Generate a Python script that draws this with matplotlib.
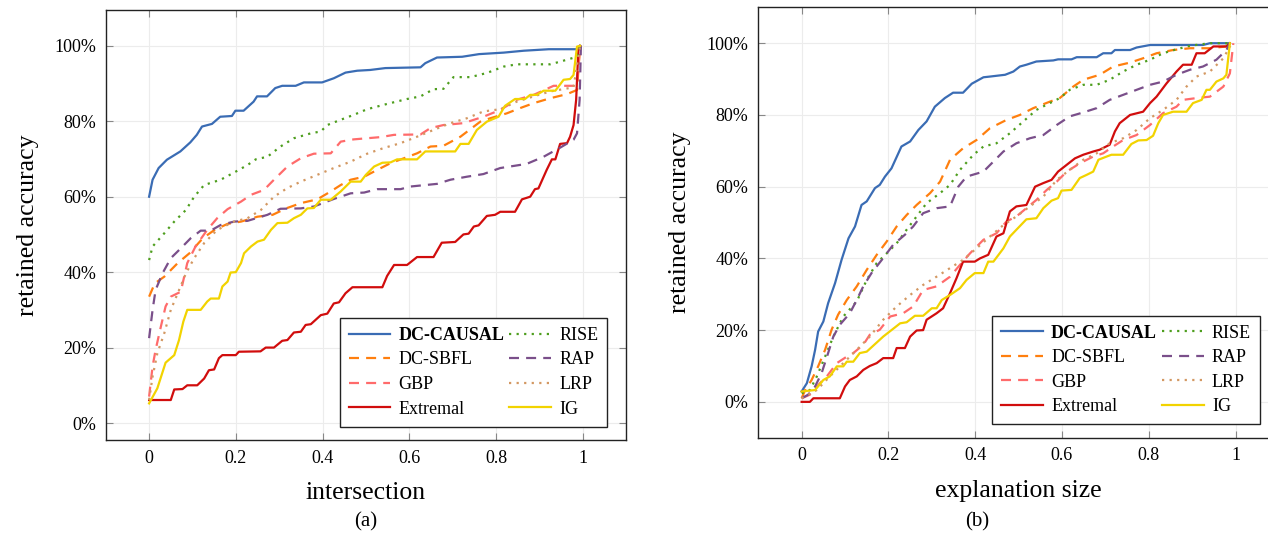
import matplotlib
matplotlib.use('Agg')
import matplotlib.pyplot as plt
from matplotlib.ticker import PercentFormatter, FuncFormatter

plt.rcParams['font.family'] = ['Liberation Serif', 'DejaVu Serif']
plt.rcParams['mathtext.fontset'] = 'stix'

LABELS = ['DC-CAUSAL', 'DC-SBFL', 'GBP', 'Extremal', 'RISE', 'RAP', 'LRP', 'IG']
XTICKS = [0, 0.2, 0.4, 0.6, 0.8, 1]
YTICKS = [0, 20, 40, 60, 80, 100]

# (a) retained accuracy (%) vs intersection
a_causal = [(0,60),(0.008,64.5),(0.022,67.6),(0.041,69.8),(0.072,72),(0.095,74.4),(0.11,76.4),(0.122,78.6),(0.145,79.3),(0.164,81.2),(0.191,81.4),(0.199,82.8),(0.218,82.8),(0.241,85.2),(0.249,86.6),(0.272,86.6),(0.291,88.8),(0.307,89.4),(0.338,89.4),(0.357,90.3),(0.399,90.3),(0.426,91.4),(0.453,92.9),(0.48,93.4),(0.51,93.6),(0.545,94.1),(0.626,94.3),(0.637,95.4),(0.664,96.9),(0.722,97.1),(0.761,97.8),(0.818,98.2),(0.864,98.7),(0.922,99.1),(0.987,99.1),(0.994,100)]
a_sbfl = [(0,33.5),(0.013,37),(0.035,38.8),(0.066,42.4),(0.093,45),(0.124,49),(0.151,51.2),(0.181,52.8),(0.212,53.4),(0.25,54.7),(0.285,55.2),(0.316,56.9),(0.35,58.3),(0.388,59.3),(0.419,61.4),(0.442,63.1),(0.465,64.5),(0.496,65.3),(0.526,67.1),(0.557,68.9),(0.588,70.2),(0.618,71.5),(0.649,73.3),(0.679,73.5),(0.718,75.9),(0.764,79.9),(0.787,80.8),(0.825,82.1),(0.856,83.5),(0.887,84.8),(0.925,86.1),(0.964,87.2),(0.987,88.3),(0.994,100)]
a_gbp = [(0,7),(0.008,15),(0.015,19.4),(0.027,25.5),(0.038,30.9),(0.05,33.5),(0.073,34.8),(0.088,42.4),(0.107,46.8),(0.134,51.2),(0.157,54.3),(0.181,56.7),(0.212,58.7),(0.235,60.5),(0.265,61.8),(0.288,64.5),(0.319,68),(0.35,70.2),(0.38,71.4),(0.419,71.5),(0.442,74.6),(0.472,75.2),(0.534,75.8),(0.565,76.4),(0.626,76.5),(0.649,78.2),(0.679,79),(0.725,79.5),(0.771,81.2),(0.81,83),(0.848,85.7),(0.887,87),(0.933,89.4),(0.987,89.4),(0.994,100)]
a_extremal = [(0,6.1),(0.05,6.1),(0.058,8.9),(0.077,9),(0.088,10),(0.111,10),(0.127,11.8),(0.138,14),(0.15,14.2),(0.161,17.2),(0.169,18),(0.2,18),(0.207,18.9),(0.257,19),(0.269,20),(0.288,20),(0.307,21.8),(0.319,22),(0.334,24),(0.35,24.2),(0.361,26),(0.373,26.2),(0.396,28.6),(0.411,29),(0.426,31.7),(0.438,32),(0.453,34.4),(0.469,36),(0.538,36),(0.549,39),(0.565,41.9),(0.595,41.9),(0.618,44),(0.656,44),(0.675,47.8),(0.706,48),(0.725,50),(0.737,50.2),(0.749,52.1),(0.76,52.4),(0.779,54.9),(0.798,55.2),(0.81,56),(0.844,56),(0.86,59.3),(0.879,60),(0.89,62),(0.898,62.2),(0.917,67.1),(0.929,69.9),(0.937,69.9),(0.948,74),(0.964,74.2),(0.971,75.9),(0.979,79),(0.985,85.7),(0.99,98.7),(0.994,100)]
a_rise = [(0,43.2),(0.008,46.8),(0.035,50.3),(0.058,53.4),(0.085,56.5),(0.104,60),(0.127,63.1),(0.165,64.5),(0.196,66.4),(0.227,68.4),(0.246,69.9),(0.273,70.6),(0.303,73.3),(0.334,75.5),(0.373,76.8),(0.396,77.3),(0.411,79),(0.442,80.4),(0.472,81.7),(0.503,83.2),(0.549,84.6),(0.595,85.9),(0.626,86.6),(0.656,88.5),(0.679,88.6),(0.702,91.7),(0.741,91.7),(0.779,92.8),(0.818,94.5),(0.848,95.1),(0.925,95.1),(0.948,95.8),(0.987,97.1),(0.994,100)]
a_rap = [(0,22.5),(0.008,30),(0.015,35.3),(0.031,39.7),(0.05,43.7),(0.073,46.3),(0.096,49),(0.119,51),(0.142,51),(0.165,52.5),(0.196,53.4),(0.227,53.6),(0.273,55.2),(0.303,56.8),(0.35,56.9),(0.38,57.4),(0.426,59.4),(0.465,60.9),(0.496,61.1),(0.526,62),(0.58,62),(0.603,62.7),(0.664,63.4),(0.695,64.5),(0.733,65.3),(0.771,66),(0.81,67.6),(0.871,68.7),(0.91,70.6),(0.948,73),(0.979,75.1),(0.987,76.8),(0.993,85.7),(0.996,100)]
a_lrp = [(0,6.1),(0.008,12.3),(0.019,18.5),(0.035,23.8),(0.05,30),(0.066,34.4),(0.085,39.7),(0.104,43.7),(0.127,47.7),(0.157,51.2),(0.196,53.4),(0.227,54.3),(0.258,56.5),(0.288,60),(0.319,62.3),(0.35,64),(0.388,65.8),(0.426,67.6),(0.465,69.3),(0.503,71.4),(0.541,72.9),(0.58,74.2),(0.618,75.9),(0.656,77.7),(0.695,79.5),(0.733,80.8),(0.771,82.6),(0.81,83.2),(0.848,85.2),(0.887,86.6),(0.925,87.9),(0.979,89),(0.994,100)]
a_ig = [(0,5.2),(0.019,9.2),(0.038,16),(0.058,18),(0.069,22),(0.079,26.9),(0.088,30),(0.119,30),(0.134,32.2),(0.142,33),(0.161,33),(0.169,36.2),(0.181,37.5),(0.188,39.9),(0.2,40),(0.212,42.4),(0.219,45),(0.235,46.8),(0.25,48.1),(0.265,48.6),(0.281,51.2),(0.296,53),(0.319,53.1),(0.334,54.3),(0.35,55.2),(0.365,56.9),(0.38,57),(0.396,59.2),(0.419,59.2),(0.442,61.4),(0.465,64),(0.488,64),(0.5,65.8),(0.519,68),(0.538,69),(0.557,69.1),(0.572,69.9),(0.618,69.9),(0.637,72),(0.706,72),(0.718,74),(0.737,74),(0.756,77.7),(0.779,79.9),(0.806,81.2),(0.821,84.1),(0.844,85.9),(0.867,85.9),(0.879,87),(0.894,87),(0.91,88.1),(0.937,88.1),(0.956,91),(0.971,91.2),(0.979,92.3),(0.987,99.8),(0.994,100)]

# (b) retained accuracy (%) vs explanation size
b_causal = [(0,2.9),(0.012,5.2),(0.023,9.9),(0.031,14.5),(0.038,19.6),(0.05,22.4),(0.061,27.5),(0.077,33.1),(0.092,39.6),(0.108,45.6),(0.123,48.9),(0.138,54.9),(0.15,55.9),(0.169,59.6),(0.18,60.5),(0.192,62.8),(0.207,65.1),(0.23,71.2),(0.25,72.6),(0.269,75.8),(0.288,78.2),(0.307,82.3),(0.33,84.7),(0.349,86.2),(0.372,86.2),(0.392,88.7),(0.419,90.5),(0.434,90.7),(0.469,91.2),(0.488,92.1),(0.503,93.5),(0.518,94),(0.541,94.9),(0.58,95.2),(0.591,95.5),(0.622,95.5),(0.634,96.1),(0.68,96.1),(0.695,97.2),(0.714,97.2),(0.722,98.1),(0.757,98.1),(0.772,98.8),(0.803,99.5),(0.925,99.5),(0.941,100),(0.987,100)]
b_sbfl = [(0,1),(0.008,3.3),(0.023,6.1),(0.038,9.9),(0.054,14.5),(0.069,20.1),(0.084,24.3),(0.104,28.4),(0.127,32.2),(0.15,36.8),(0.173,41),(0.196,44.7),(0.219,48.9),(0.242,52.1),(0.265,54.9),(0.296,58.2),(0.319,61.4),(0.342,67.5),(0.372,70.7),(0.403,73),(0.434,76.3),(0.472,78.6),(0.503,80),(0.534,81.9),(0.572,83.7),(0.595,84.7),(0.626,87.9),(0.649,89.8),(0.687,91.2),(0.718,93.5),(0.757,94.6),(0.787,95.8),(0.818,97.2),(0.856,98.1),(0.895,98.6),(0.941,98.6),(0.979,99.1),(0.987,100)]
b_gbp = [(0,1),(0.019,2),(0.042,5.2),(0.058,7.1),(0.081,10.8),(0.104,12.6),(0.119,13.6),(0.142,15.9),(0.157,18.7),(0.18,20.1),(0.204,23.8),(0.234,24.7),(0.257,26.6),(0.28,31.2),(0.311,32.2),(0.342,34.9),(0.365,38.2),(0.388,41.4),(0.419,45.2),(0.449,47),(0.472,50.3),(0.495,51.7),(0.518,54),(0.541,56.3),(0.565,59.1),(0.588,61.4),(0.611,64.2),(0.641,66.5),(0.672,68.4),(0.695,69.3),(0.718,71.2),(0.741,73),(0.772,74.4),(0.803,77.2),(0.833,80.5),(0.864,82.3),(0.879,84.2),(0.91,84.7),(0.941,85.1),(0.972,87.9),(0.987,91.6),(0.995,100)]
b_extremal = [(0,0),(0.019,0),(0.027,1),(0.088,1),(0.1,4.3),(0.111,6.1),(0.127,7.1),(0.142,8.9),(0.157,10),(0.173,10.8),(0.188,12.2),(0.211,12.2),(0.219,15),(0.238,15),(0.25,18.2),(0.265,19.9),(0.28,20),(0.288,22.9),(0.311,24.7),(0.326,26.1),(0.342,30.3),(0.357,34.5),(0.372,39.1),(0.399,39.1),(0.411,40),(0.43,41),(0.449,46.1),(0.465,47),(0.48,53.1),(0.495,54.5),(0.518,54.9),(0.538,60),(0.557,61),(0.576,61.9),(0.591,64.2),(0.611,66.1),(0.63,67.9),(0.649,68.9),(0.672,69.8),(0.687,70.3),(0.71,71.7),(0.722,75.4),(0.733,77.7),(0.757,80),(0.787,80.9),(0.803,83.3),(0.818,85.1),(0.841,88.8),(0.864,92.1),(0.879,94),(0.899,94),(0.91,97.2),(0.929,97.2),(0.949,99.1),(0.979,99.1),(0.987,100)]
b_rise = [(0,2.4),(0.019,3.3),(0.035,7.1),(0.054,12.6),(0.073,18.2),(0.096,23.8),(0.127,28),(0.15,34),(0.173,38.7),(0.196,41.4),(0.219,44.2),(0.242,48),(0.265,51.7),(0.288,55.4),(0.319,58.2),(0.342,60.5),(0.365,64.7),(0.396,68.9),(0.419,71.2),(0.449,72.1),(0.48,74.9),(0.511,78.2),(0.541,81.4),(0.572,83.3),(0.595,84.7),(0.618,87),(0.649,88.4),(0.68,88.4),(0.71,89.8),(0.741,92.1),(0.772,94),(0.803,95.4),(0.833,97.2),(0.864,98.3),(0.895,99.3),(0.941,100),(0.987,100)]
b_rap = [(0,1),(0.015,2),(0.031,4.3),(0.046,8),(0.061,13.6),(0.073,18.2),(0.088,21.5),(0.111,24.7),(0.127,28.4),(0.142,32.2),(0.161,35.9),(0.188,40.1),(0.211,43.8),(0.238,46.6),(0.257,48.9),(0.28,52.6),(0.311,54),(0.342,54.5),(0.361,60),(0.38,62.8),(0.419,64.2),(0.442,67),(0.465,69.8),(0.495,72.1),(0.526,73.5),(0.557,74.4),(0.588,77.2),(0.618,79.6),(0.649,80.7),(0.68,81.9),(0.71,84.2),(0.741,85.6),(0.772,87),(0.803,88.4),(0.833,89.3),(0.864,91.2),(0.895,92.6),(0.925,93.5),(0.956,95.4),(0.979,98.1),(0.987,100)]
b_lrp = [(0,1),(0.035,3.3),(0.065,7.1),(0.096,10.8),(0.127,14.5),(0.157,18.2),(0.188,22.9),(0.219,26.6),(0.25,29.8),(0.28,32.6),(0.311,34.9),(0.342,37.3),(0.372,39.6),(0.403,42.8),(0.434,46.1),(0.465,49.3),(0.495,51.7),(0.526,54.5),(0.557,57.2),(0.588,61.9),(0.618,64.7),(0.649,67.5),(0.68,69.3),(0.71,72.1),(0.741,73.5),(0.772,75.8),(0.803,79.1),(0.833,81.4),(0.864,84.2),(0.887,87.9),(0.91,90.7),(0.941,92.1),(0.972,95.8),(0.987,99.1),(0.995,100)]
b_ig = [(0,2.9),(0.031,3.3),(0.05,6.1),(0.065,7.1),(0.081,9.9),(0.096,9.9),(0.104,11.2),(0.119,11.2),(0.134,13.6),(0.15,14),(0.188,18.2),(0.227,21.9),(0.242,22.2),(0.261,24),(0.28,24),(0.3,26.1),(0.311,26.1),(0.323,28.4),(0.342,29.8),(0.365,31.7),(0.38,34),(0.399,35.9),(0.419,35.9),(0.43,39.1),(0.442,39.1),(0.465,42.8),(0.48,46.1),(0.495,48),(0.518,50.9),(0.541,51.2),(0.557,54),(0.576,56.1),(0.591,56.8),(0.599,58.9),(0.622,59.1),(0.641,62.4),(0.657,63.3),(0.672,64.2),(0.684,67.5),(0.703,68.4),(0.714,68.9),(0.741,68.9),(0.76,71.9),(0.776,72.9),(0.795,73),(0.81,74.2),(0.822,77.7),(0.833,80),(0.856,80.9),(0.887,80.9),(0.902,83.3),(0.922,84.2),(0.933,87),(0.941,87),(0.956,89.3),(0.972,90.2),(0.979,91.2),(0.987,100)]

COLORS = ['#3a6cb4', '#ff7f0e', '#ff6b6b', '#d10d0d', '#4e9e1e', '#7a4f8a', '#d39862', '#f2d300']
DASH = (0, (4.5, 3.2))
DOT = (0, (1, 2.4))
STYLES = ['-', DASH, DASH, '-', DOT, DASH, DOT, '-']


def draw_panel(ax, series, ylim, xlabel):
    for pts, lab, c, ls in zip(series, LABELS, COLORS, STYLES):
        xs = [p[0] for p in pts]
        ys = [p[1] for p in pts]
        ax.plot(xs, ys, color=c, linestyle=ls, lw=1.6, label=lab)
    ax.set_xlim(-0.1, 1.1)
    ax.set_ylim(*ylim)
    ax.set_xticks(XTICKS)
    ax.set_yticks(YTICKS)
    ax.xaxis.set_major_formatter(FuncFormatter(lambda v, p: '%g' % v))
    ax.yaxis.set_major_formatter(PercentFormatter(decimals=0))
    ax.grid(True, color='#ececec', lw=0.8)
    ax.set_axisbelow(True)
    ax.tick_params(direction='in', length=5, color='#888888', labelsize=13,
                   top=True, right=True, pad=7)
    for s in ax.spines.values():
        s.set_color('#222222')
        s.set_linewidth(1.0)
    ax.set_xlabel(xlabel, fontsize=18.5, labelpad=11)
    ax.set_ylabel('retained accuracy', fontsize=18.5, labelpad=11)
    leg = ax.legend(ncol=2, loc='lower right', bbox_to_anchor=(0.964, 0.031),
                    borderaxespad=0, fontsize=13, frameon=True, fancybox=False,
                    edgecolor='#222222', framealpha=1, handlelength=2.3,
                    handletextpad=0.45, columnspacing=0.3, labelspacing=0.42,
                    borderpad=0.5)
    leg.get_frame().set_linewidth(1.0)
    leg.get_texts()[0].set_fontweight('bold')


fig = plt.figure(figsize=(12.68, 5.4), dpi=100)
ax1 = fig.add_axes([0.0834, 0.1852, 0.4103, 0.7963])
ax2 = fig.add_axes([0.598, 0.1894, 0.4106, 0.797])

draw_panel(ax1, [a_causal, a_sbfl, a_gbp, a_extremal, a_rise, a_rap, a_lrp, a_ig],
           (-4.5, 109.5), 'intersection')
draw_panel(ax2, [b_causal, b_sbfl, b_gbp, b_extremal, b_rise, b_rap, b_lrp, b_ig],
           (-10, 110), 'explanation size')

fig.text(366 / 1268, 1 - 522 / 540, '(a)', ha='center', va='center', fontsize=15)
fig.text(977 / 1268, 1 - 522 / 540, '(b)', ha='center', va='center', fontsize=15)

fig.savefig('out.png', dpi=100)
